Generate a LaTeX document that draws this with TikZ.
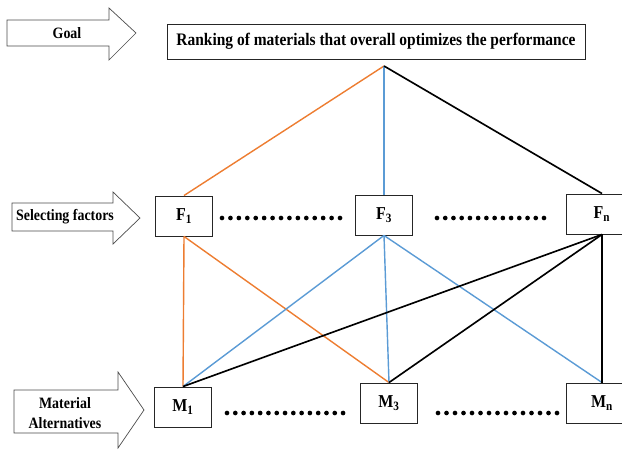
\documentclass[tikz,border=0pt]{standalone}
\usepackage{fontspec}
\setmainfont{Liberation Serif}[FakeStretch=0.88]
\usepackage{xcolor}
\definecolor{lineorange}{RGB}{237,125,49}
\definecolor{lineblue}{RGB}{91,155,213}

\begin{document}
\begin{tikzpicture}
	[x=0.03cm,y=-0.03cm,every node/.style={font=\bfseries}]
	\tikzstyle{box} = [draw=black!85, line width=0.8pt, minimum width=1.71cm, minimum height=1.2cm, inner sep=0pt, font=\fontsize{15.5}{17}\selectfont\bfseries];
	\tikzstyle{wide} = [box, minimum width=2.16cm];
	\tikzstyle{level} = [draw=black!70, line width=0.6pt, fill=white];
	\tikzstyle{label} = [align=center, font=\fontsize{13.5}{17}\selectfont\bfseries];
	\tikzstyle{orangeedge} = [lineorange, line width=1.2pt];
	\tikzstyle{blueedge} = [lineblue, line width=1.2pt];
	\tikzstyle{blackedge} = [black, line width=1.4pt];
	
	\useasboundingbox (0,0) rectangle (622,449);
	
	% level arrows
	\draw[level] (7,20) -- (109,20) -- (109,8) -- (136,33) -- (109,60) -- (109,46) -- (7,46) -- cycle;
	\draw[level] (12,203) -- (113,203) -- (113,192) -- (140,218) -- (113,244) -- (113,231) -- (12,231) -- cycle;
	\draw[level] (14,390) -- (118,390) -- (118,372) -- (144,410) -- (118,448) -- (118,433) -- (14,433) -- cycle;
	\node[label] (goal) at (67,33) {Goal};
	\node[label] (sel) at (65,217) {Selecting factors};
	\node[label] (alt) at (65,413) {Material\\Alternatives};
	
	% goal
	\node[draw=black!85, line width=0.8pt, minimum width=12.54cm, minimum height=1.05cm, font=\fontsize{15}{17}\selectfont\bfseries] (rank) at (376,41.5) {Ranking of materials that overall optimizes the performance};
	\coordinate (top) at (384,66);
	
	% factors
	\node[box] (f1) at (184,216) {F\textsubscript{1}};
	\node[box] (f3) at (384,215) {F\textsubscript{3}};
	\node[wide] (fn) at (602,214) {F\textsubscript{n}};
	
	% alternatives
	\node[box] (m1) at (183,407) {M\textsubscript{1}};
	\node[box] (m3) at (389,403) {M\textsubscript{3}};
	\node[wide] (mn) at (602,403) {M\textsubscript{n}};
	
	% dots
	\foreach \i in {0,...,14} \fill ({222+8.43*\i},218) circle (2pt);
	\foreach \i in {0,...,13} \fill ({437+8.23*\i},218) circle (2pt);
	\foreach \i in {0,...,14} \fill ({227+8.29*\i},413) circle (2pt);
	\foreach \i in {0,...,14} \fill ({438+8.5*\i},413) circle (2pt);
	
	\draw[orangeedge] (top) -- (f1.north);
	\draw[blueedge] (top) -- (f3.north);
	\draw[blackedge] (top) -- (fn.north);
	
	\draw[orangeedge] (f1.south) -- (m1.north);
	\draw[orangeedge] (f1.south) -- (m3.north);
	\draw[blueedge] (f3.south) -- (m1.north);
	\draw[blueedge] (f3.south) -- (m3.north);
	\draw[blueedge] (f3.south) -- (mn.north);
	\draw[blackedge] (fn.south) -- (m1.north);
	\draw[blackedge] (fn.south) -- (m3.north);
	\draw[blackedge] (fn.south) -- (mn.north);
\end{tikzpicture}
\end{document}
